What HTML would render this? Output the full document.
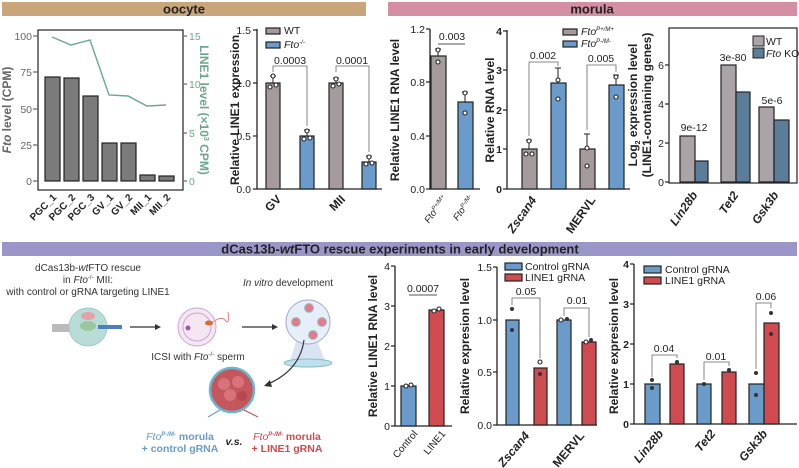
<!DOCTYPE html>
<html><head><meta charset="utf-8"><style>
html,body{margin:0;padding:0;background:#fff;}
svg{display:block;font-family:"Liberation Sans",Arial,sans-serif;}
.t{font-size:10.5px;fill:#222;}
.al{font-size:12px;font-weight:bold;fill:#222;}
.ax{stroke:#222;stroke-width:1.3;fill:none;}
.b{stroke:#222;stroke-width:1.2;}
.g{fill:#a49b9a;}.bl{fill:#6a9bcb;}.rd{fill:#cf4b50;}
.br{stroke:#666;stroke-width:0.8;fill:none;}
.dot{fill:#fff;stroke:#222;stroke-width:1.1;}
.dd{fill:#333;}
</style></head><body>
<svg width="799" height="468" viewBox="0 0 799 468">
<!-- headers -->
<rect x="2" y="2" width="364" height="14" fill="#c9a679"/>
<text x="184" y="13.5" text-anchor="middle" font-size="13" font-weight="bold" fill="#222">oocyte</text>
<rect x="388" y="2" width="409" height="14" fill="#d58fa5"/>
<text x="592" y="13.5" text-anchor="middle" font-size="13" font-weight="bold" fill="#222">morula</text>
<rect x="2" y="242" width="795" height="14" fill="#9b96c8"/>
<text x="400" y="253.5" text-anchor="middle" font-size="13" font-weight="bold" fill="#222">dCas13b-<tspan font-style="italic">wt</tspan>FTO rescue experiments in early development</text>

<!-- Panel 1 -->
<g>
<rect x="38" y="30" width="145" height="160" fill="none" stroke="#222" stroke-width="1.2"/>
<g stroke="#666" stroke-width="1.2">
<line x1="33" y1="36" x2="38" y2="36"/><line x1="33" y1="72" x2="38" y2="72"/><line x1="33" y1="109" x2="38" y2="109"/><line x1="33" y1="145" x2="38" y2="145"/><line x1="33" y1="181" x2="38" y2="181"/>
<line x1="183" y1="36" x2="187" y2="36"/><line x1="183" y1="84" x2="187" y2="84"/><line x1="183" y1="133" x2="187" y2="133"/><line x1="183" y1="181" x2="187" y2="181"/>
</g>
<g font-size="10.5" fill="#666" text-anchor="end">
<text x="32" y="40">100</text><text x="32" y="76">75</text><text x="32" y="113">50</text><text x="32" y="149">25</text><text x="32" y="185">0</text>
</g>
<g font-size="10.5" fill="#6aa88e">
<text x="189" y="40">15</text><text x="189" y="88">10</text><text x="189" y="137">5</text><text x="189" y="185">0</text>
</g>
<g fill="#7b7b7b" stroke="#222" stroke-width="1.2">
<rect x="45" y="77" width="15" height="104"/>
<rect x="64" y="78" width="15" height="103"/>
<rect x="83" y="96" width="15" height="85"/>
<rect x="102" y="143" width="15" height="38"/>
<rect x="121" y="143" width="15" height="38"/>
<rect x="140" y="175" width="15" height="6"/>
<rect x="159" y="176" width="15" height="5"/>
</g>
<polyline fill="none" stroke="#6aa88e" stroke-width="1.4" points="52,37 71,45 90,40 109,95 128,96 147,106 166,105"/>
<text class="al" transform="translate(11,110) rotate(-90)" text-anchor="middle" style="fill:#666"><tspan font-style="italic">Fto</tspan> level (CPM)</text>
<text class="al" transform="translate(200,110) rotate(90)" text-anchor="middle" style="fill:#6aa88e">LINE1 level (×10<tspan font-size="7" dy="-4">3</tspan><tspan dy="4"> CPM)</tspan></text>
<g font-size="10" font-weight="bold" fill="#222" text-anchor="end">
<text transform="translate(57,198) rotate(-45)">PGC_1</text>
<text transform="translate(76,198) rotate(-45)">PGC_2</text>
<text transform="translate(95,198) rotate(-45)">PGC_3</text>
<text transform="translate(114,198) rotate(-45)">GV_1</text>
<text transform="translate(133,198) rotate(-45)">GV_2</text>
<text transform="translate(152,198) rotate(-45)">MII_1</text>
<text transform="translate(171,198) rotate(-45)">MII_2</text>
</g>
</g>

<!-- Panel 2 -->
<g>
<path class="ax" d="M257,29 V189 H382"/>
<g stroke="#222" stroke-width="1.2"><line x1="253" y1="30" x2="257" y2="30"/><line x1="253" y1="83" x2="257" y2="83"/><line x1="253" y1="136" x2="257" y2="136"/><line x1="253" y1="189" x2="257" y2="189"/></g>
<g class="t" text-anchor="end"><text x="251" y="34">1.5</text><text x="251" y="87">1.0</text><text x="251" y="140">0.5</text><text x="251" y="193">0.0</text></g>
<rect class="g b" x="266" y="83" width="14" height="106"/>
<rect class="bl b" x="300" y="136" width="14" height="53"/>
<rect class="g b" x="329" y="83" width="14" height="106"/>
<rect class="bl b" x="362" y="162" width="14" height="27"/>
<g stroke="#222" stroke-width="1"><line x1="273" y1="76" x2="273" y2="83"/><line x1="270" y1="76" x2="276" y2="76"/><line x1="307" y1="130" x2="307" y2="136"/><line x1="304" y1="130" x2="310" y2="130"/><line x1="336" y1="78" x2="336" y2="83"/><line x1="333" y1="78" x2="339" y2="78"/><line x1="369" y1="156" x2="369" y2="162"/><line x1="366" y1="156" x2="372" y2="156"/></g>
<g class="dot"><circle cx="273" cy="76" r="2"/><circle cx="270" cy="87" r="2"/><circle cx="276" cy="85" r="2"/><circle cx="307" cy="131" r="2"/><circle cx="304" cy="139" r="2"/><circle cx="310" cy="138" r="2"/><circle cx="336" cy="79" r="2"/><circle cx="333" cy="86" r="2"/><circle cx="339" cy="84" r="2"/><circle cx="369" cy="157" r="2"/><circle cx="366" cy="164" r="2"/><circle cx="372" cy="163" r="2"/></g>
<path class="br" d="M273,72 V66 H307 V126"/><path class="br" d="M336,72 V66 H369 V152"/>
<g class="t" text-anchor="middle"><text x="290" y="64">0.0003</text><text x="352" y="64">0.0001</text></g>
<rect class="g b" x="266" y="28" width="14" height="6"/><text class="t" x="284" y="34" font-size="11">WT</text>
<rect class="bl b" x="266" y="42" width="14" height="6"/><text class="t" x="284" y="48" font-size="11" font-style="italic">Fto<tspan font-size="6" dy="-4">-/-</tspan></text>
<text class="al" transform="translate(239,110) rotate(-90)" text-anchor="middle">Relative LINE1 expression</text>
<g class="al" font-size="11" text-anchor="end"><text transform="translate(282,200) rotate(-45)">GV</text><text transform="translate(346,200) rotate(-45)">MII</text></g>
</g>

<!-- Morula A -->
<g>
<path class="ax" d="M430,29 V189 H480"/>
<g stroke="#222" stroke-width="1.2"><line x1="426" y1="29" x2="430" y2="29"/><line x1="426" y1="82" x2="430" y2="82"/><line x1="426" y1="136" x2="430" y2="136"/><line x1="426" y1="189" x2="430" y2="189"/></g>
<g class="t" text-anchor="end"><text x="425" y="33">1.2</text><text x="425" y="86">0.8</text><text x="425" y="140">0.4</text><text x="425" y="193">0.0</text></g>
<rect class="g b" x="431" y="56" width="15" height="133"/>
<rect class="bl b" x="458" y="102" width="15" height="87"/>
<g stroke="#222"><line x1="438" y1="49" x2="438" y2="56"/><line x1="435" y1="49" x2="441" y2="49"/><line x1="465" y1="92" x2="465" y2="102"/><line x1="462" y1="92" x2="468" y2="92"/></g>
<g class="dot"><circle cx="438" cy="50" r="2"/><circle cx="438" cy="62" r="2"/><circle cx="465" cy="93" r="2"/><circle cx="465" cy="113" r="2"/></g>
<line x1="438" y1="44" x2="465" y2="44" stroke="#555"/>
<text class="t" x="452" y="40" text-anchor="middle">0.003</text>
<text class="al" transform="translate(399,110) rotate(-90)" text-anchor="middle">Relative LINE1 RNA level</text>
<g font-size="9.5" font-style="italic" fill="#222" text-anchor="end"><text transform="translate(447,198) rotate(-55)">Fto<tspan font-size="6" dy="-3">P+/M+</tspan></text><text transform="translate(474,198) rotate(-55)">Fto<tspan font-size="6" dy="-3">P-/M-</tspan></text></g>
</g>

<!-- Morula B -->
<g>
<path class="ax" d="M507,30 V189 H630"/>
<g stroke="#222" stroke-width="1.2"><line x1="503" y1="31" x2="507" y2="31"/><line x1="503" y1="70" x2="507" y2="70"/><line x1="503" y1="110" x2="507" y2="110"/><line x1="503" y1="149" x2="507" y2="149"/><line x1="503" y1="189" x2="507" y2="189"/></g>
<g class="t" font-size="11" font-weight="bold" text-anchor="end"><text x="502" y="35">4</text><text x="502" y="74">3</text><text x="502" y="114">2</text><text x="502" y="153">1</text><text x="502" y="193">0</text></g>
<rect class="g b" x="522" y="149" width="15" height="40"/>
<rect class="bl b" x="551" y="83" width="15" height="106"/>
<rect class="g b" x="580" y="149" width="15" height="40"/>
<rect class="bl b" x="609" y="85" width="15" height="104"/>
<g stroke="#222"><line x1="529" y1="140" x2="529" y2="149"/><line x1="526" y1="140" x2="532" y2="140"/><line x1="558" y1="68" x2="558" y2="83"/><line x1="555" y1="68" x2="561" y2="68"/><line x1="587" y1="134" x2="587" y2="149"/><line x1="584" y1="134" x2="590" y2="134"/><line x1="616" y1="75" x2="616" y2="85"/><line x1="613" y1="75" x2="619" y2="75"/></g>
<g class="dot"><circle cx="529" cy="141" r="2"/><circle cx="526" cy="154" r="2"/><circle cx="532" cy="154" r="2"/><circle cx="558" cy="80" r="2"/><circle cx="558" cy="99" r="2"/><circle cx="587" cy="148" r="2"/><circle cx="587" cy="166" r="2"/><circle cx="616" cy="77" r="2"/><circle cx="616" cy="97" r="2"/></g>
<path class="br" d="M529,136 V62 H558 V66"/><path class="br" d="M587,130 V65 H616 V72"/>
<g class="t" text-anchor="middle"><text x="543" y="59">0.002</text><text x="601" y="62">0.005</text></g>
<rect class="g b" x="563" y="29" width="14" height="6"/><text class="t" x="581" y="35" font-style="italic">Fto<tspan font-size="6" dy="-4">P+/M+</tspan></text>
<rect class="bl b" x="563" y="41" width="14" height="6"/><text class="t" x="581" y="47" font-style="italic">Fto<tspan font-size="6" dy="-4">P-/M-</tspan></text>
<text class="al" transform="translate(494,110) rotate(-90)" text-anchor="middle">Relative RNA level</text>
<g class="al" font-size="11" text-anchor="end"><text transform="translate(537,200) rotate(-55)" font-style="italic">Zscan4</text><text transform="translate(596,200) rotate(-55)">MERVL</text></g>
</g>

<!-- Morula C -->
<g>
<rect x="669" y="28" width="128" height="155" fill="none" stroke="#222" stroke-width="1.2"/>
<g stroke="#222" stroke-width="1.2"><line x1="665" y1="65" x2="669" y2="65"/><line x1="665" y1="104" x2="669" y2="104"/><line x1="665" y1="143" x2="669" y2="143"/><line x1="665" y1="182" x2="669" y2="182"/></g>
<g class="t" text-anchor="end"><text x="664" y="69">6</text><text x="664" y="108">4</text><text x="664" y="147">2</text><text x="664" y="186">0</text></g>
<g stroke="#222" stroke-width="1.2">
<rect x="680" y="136" width="15" height="46" fill="#aaa3a8"/><rect x="695" y="161" width="13" height="21" fill="#5b7d9a"/>
<rect x="721" y="65" width="15" height="117" fill="#aaa3a8"/><rect x="736" y="92" width="14" height="90" fill="#5b7d9a"/>
<rect x="759" y="107" width="15" height="75" fill="#aaa3a8"/><rect x="774" y="120" width="15" height="62" fill="#5b7d9a"/>
</g>
<g class="t" text-anchor="middle"><text x="694" y="131">9e-12</text><text x="733" y="61">3e-80</text><text x="772" y="104">5e-6</text></g>
<rect x="753" y="36" width="11" height="10" fill="#aaa3a8" stroke="#222"/><text class="t" x="766" y="45" font-size="11">WT</text>
<rect x="753" y="48" width="11" height="10" fill="#5b7d9a" stroke="#222"/><text class="t" x="766" y="57" font-size="11"><tspan font-style="italic">Fto</tspan> KO</text>
<text class="al" transform="translate(637,105) rotate(-90)" text-anchor="middle">Log<tspan font-size="7" dy="3">2</tspan><tspan dy="-3"> expression level</tspan></text>
<text class="al" transform="translate(651,105) rotate(-90)" text-anchor="middle">(LINE1-containing genes)</text>
<g class="al" font-size="11" font-style="italic" text-anchor="end"><text transform="translate(698,195) rotate(-55)">Lin28b</text><text transform="translate(739,195) rotate(-55)">Tet2</text><text transform="translate(779,195) rotate(-55)">Gsk3b</text></g>
</g>

<!-- Diagram -->
<g font-size="10" fill="#333" text-anchor="middle">
<text x="88" y="271">dCas13b-<tspan font-style="italic">wt</tspan>FTO rescue</text>
<text x="88" y="283">in <tspan font-style="italic">Fto</tspan><tspan font-size="6" dy="-4">-/-</tspan><tspan dy="4"> MII:</tspan></text>
<text x="88" y="295">with control or gRNA targeting LINE1</text>
<text x="288" y="286"><tspan font-style="italic">In vitro</tspan> development</text>
<text x="198" y="360">ICSI with <tspan font-style="italic">Fto</tspan><tspan font-size="6" dy="-4">-/-</tspan><tspan dy="4"> sperm</tspan></text>
</g>
<rect x="52" y="324" width="22" height="8" fill="#bbb"/>
<circle cx="88" cy="327" r="19" fill="#b8dcd6" stroke="#9cc" />
<ellipse cx="88" cy="316" rx="7" ry="4" fill="#e8a0a8"/>
<ellipse cx="88" cy="326" rx="8" ry="5" fill="#9cc79c"/>
<rect x="98" y="325" width="24" height="4" fill="#4a7fc0"/>
<path d="M130,327 H155" stroke="#333" stroke-width="1.2"/><path d="M155,324 L161,327 L155,330Z" fill="#333"/>
<circle cx="197" cy="327" r="19" fill="#f6e6f2" stroke="#c9a6d8"/>
<circle cx="197" cy="327" r="14" fill="none" stroke="#c9a6d8"/>
<circle cx="188" cy="328" r="2.5" fill="#9a5aa0"/>
<ellipse cx="209" cy="323" rx="4" ry="2.5" fill="#d07030"/>
<path d="M213,322 q8,-6 12,-2 q5,6 3,-8" stroke="#e08090" fill="none"/>
<path d="M242,327 H272" stroke="#333" stroke-width="1.2"/><path d="M272,324 L278,327 L272,330Z" fill="#333"/>
<path d="M300,330 L290,360 H325 L312,330Z" fill="#c0d0e8" opacity="0.6"/>
<ellipse cx="308" cy="363" rx="24" ry="4" fill="#bde0ee" stroke="#8bb"/>
<circle cx="308" cy="322" r="22" fill="#e6eef8" stroke="#aac"/>
<circle cx="309" cy="308" r="4.5" fill="#e57a88" stroke="#8cc"/><circle cx="296" cy="322" r="4.5" fill="#e57a88" stroke="#8cc"/><circle cx="322" cy="322" r="4.5" fill="#e57a88" stroke="#8cc"/><circle cx="313" cy="335" r="4.5" fill="#e57a88" stroke="#8cc"/>
<path d="M304,340 Q300,370 268,384" stroke="#333" fill="none" stroke-width="1.2"/><path d="M270,380 L264,386 L272,387Z" fill="#333"/>
<circle cx="232" cy="390" r="22" fill="#c4565e" stroke="#6ab6cc" stroke-width="2.5"/>
<circle cx="224" cy="384" r="6" fill="#d7737a"/><circle cx="238" cy="382" r="6" fill="#d7737a"/><circle cx="230" cy="395" r="6" fill="#d7737a"/><circle cx="242" cy="396" r="5" fill="#b84850"/>
<path d="M220,410 L208,417" stroke="#6a9bcb" stroke-width="1.2"/><path d="M244,410 L258,417" stroke="#cf4b50" stroke-width="1.2"/>
<g font-size="10.5" font-weight="bold" text-anchor="middle">
<text x="180" y="440" fill="#6a9bcb"><tspan font-style="italic" font-weight="normal">Fto</tspan><tspan font-size="6" dy="-4" font-style="italic">P-/M-</tspan><tspan dy="4"> morula</tspan></text>
<text x="180" y="452" fill="#6a9bcb">+ control gRNA</text>
<text x="234" y="445" fill="#222" font-style="italic">v.s.</text>
<text x="287" y="440" fill="#cf4b50"><tspan font-style="italic" font-weight="normal">Fto</tspan><tspan font-size="6" dy="-4" font-style="italic">P-/M-</tspan><tspan dy="4"> morula</tspan></text>
<text x="287" y="452" fill="#cf4b50">+ LINE1 gRNA</text>
</g>

<!-- Panel D -->
<g>
<path class="ax" d="M395,266 V426 H452"/>
<g stroke="#222" stroke-width="1.2"><line x1="391" y1="266" x2="395" y2="266"/><line x1="391" y1="306" x2="395" y2="306"/><line x1="391" y1="346" x2="395" y2="346"/><line x1="391" y1="386" x2="395" y2="386"/><line x1="391" y1="426" x2="395" y2="426"/></g>
<g class="t" text-anchor="end"><text x="390" y="270">4</text><text x="390" y="310">3</text><text x="390" y="350">2</text><text x="390" y="390">1</text><text x="390" y="430">0</text></g>
<rect class="bl b" x="401" y="386" width="15" height="40"/>
<rect class="rd b" x="429" y="310" width="15" height="116"/>
<g class="dot"><circle cx="406" cy="386" r="2"/><circle cx="411" cy="385" r="2"/><circle cx="434" cy="311" r="2"/><circle cx="439" cy="309" r="2"/></g>
<line x1="409" y1="295" x2="437" y2="295" stroke="#555"/>
<text class="t" x="423" y="292" text-anchor="middle">0.0007</text>
<text class="al" transform="translate(377,346) rotate(-90)" text-anchor="middle">Relative LINE1 RNA level</text>
<g font-size="10" fill="#222" text-anchor="end"><text transform="translate(418,434) rotate(-50)">Control</text><text transform="translate(446,434) rotate(-50)">LINE1</text></g>
</g>

<!-- Panel E -->
<g>
<path class="ax" d="M497,267 V425 H597"/>
<g stroke="#222" stroke-width="1.2"><line x1="493" y1="267" x2="497" y2="267"/><line x1="493" y1="320" x2="497" y2="320"/><line x1="493" y1="372" x2="497" y2="372"/><line x1="493" y1="425" x2="497" y2="425"/></g>
<g class="t" text-anchor="end"><text x="492" y="271">1.5</text><text x="492" y="324">1.0</text><text x="492" y="376">0.5</text><text x="492" y="429">0.0</text></g>
<rect class="bl b" x="506" y="320" width="13" height="105"/>
<rect class="rd b" x="534" y="368" width="13" height="57"/>
<rect class="bl b" x="557" y="320" width="14" height="105"/>
<rect class="rd b" x="582" y="342" width="14" height="83"/>
<g class="dd"><circle cx="512" cy="309" r="2"/><circle cx="512" cy="330" r="2"/><circle cx="540" cy="374" r="2"/><circle cx="567" cy="319" r="2"/><circle cx="591" cy="340" r="2"/></g>
<g class="dot"><circle cx="561" cy="320" r="2"/><circle cx="586" cy="342" r="2"/><circle cx="540" cy="362" r="2"/></g>
<path class="br" d="M512,305 V298 H540 V358"/><path class="br" d="M564,316 V308 H589 V337"/>
<g class="t" text-anchor="middle"><text x="526" y="295">0.05</text><text x="577" y="304">0.01</text></g>
<rect class="bl b" x="505" y="263" width="17" height="7"/><text class="t" x="525" y="270" font-size="11">Control gRNA</text>
<rect class="rd b" x="505" y="274" width="17" height="7"/><text class="t" x="525" y="281" font-size="11">LINE1 gRNA</text>
<text class="al" transform="translate(469,346) rotate(-90)" text-anchor="middle">Relative expresion level</text>
<g class="al" font-size="11" text-anchor="end"><text transform="translate(530,436) rotate(-50)" font-style="italic">Zscan4</text><text transform="translate(585,436) rotate(-50)">MERVL</text></g>
</g>

<!-- Panel F -->
<g>
<path class="ax" d="M634,264 V424 H797"/>
<g stroke="#222" stroke-width="1.2"><line x1="630" y1="264" x2="634" y2="264"/><line x1="630" y1="304" x2="634" y2="304"/><line x1="630" y1="344" x2="634" y2="344"/><line x1="630" y1="384" x2="634" y2="384"/><line x1="630" y1="424" x2="634" y2="424"/></g>
<g class="t" font-size="11" font-weight="bold" text-anchor="end"><text x="629" y="268">4</text><text x="629" y="308">3</text><text x="629" y="348">2</text><text x="629" y="388">1</text><text x="629" y="428">0</text></g>
<rect class="bl b" x="645" y="384" width="15" height="40"/>
<rect class="rd b" x="670" y="364" width="14" height="60"/>
<rect class="bl b" x="697" y="384" width="14" height="40"/>
<rect class="rd b" x="722" y="372" width="14" height="52"/>
<rect class="bl b" x="749" y="384" width="15" height="40"/>
<rect class="rd b" x="764" y="323" width="15" height="101"/>
<g class="dd"><circle cx="652" cy="380" r="2"/><circle cx="652" cy="388" r="2"/><circle cx="677" cy="362" r="2"/><circle cx="704" cy="384" r="2"/><circle cx="729" cy="370" r="2"/><circle cx="756" cy="373" r="2"/><circle cx="756" cy="395" r="2"/><circle cx="771" cy="313" r="2"/><circle cx="771" cy="334" r="2"/></g>
<path class="br" d="M652,377 V355 H677 V358"/><path class="br" d="M704,380 V362 H729 V366"/><path class="br" d="M756,369 V303 H771 V308"/>
<g class="t" text-anchor="middle"><text x="664" y="352">0.04</text><text x="716" y="360">0.01</text><text x="766" y="300">0.06</text></g>
<rect class="bl b" x="644" y="266" width="17" height="7"/><text class="t" x="665" y="273" font-size="11">Control gRNA</text>
<rect class="rd b" x="644" y="277" width="17" height="7"/><text class="t" x="665" y="284" font-size="11">LINE1 gRNA</text>
<text class="al" transform="translate(618,346) rotate(-90)" text-anchor="middle">Relative expresion level</text>
<g class="al" font-size="11" font-style="italic" text-anchor="end"><text transform="translate(664,434) rotate(-50)">Lin28b</text><text transform="translate(716,434) rotate(-50)">Tet2</text><text transform="translate(768,434) rotate(-50)">Gsk3b</text></g>
</g>
</svg>
</body></html>
